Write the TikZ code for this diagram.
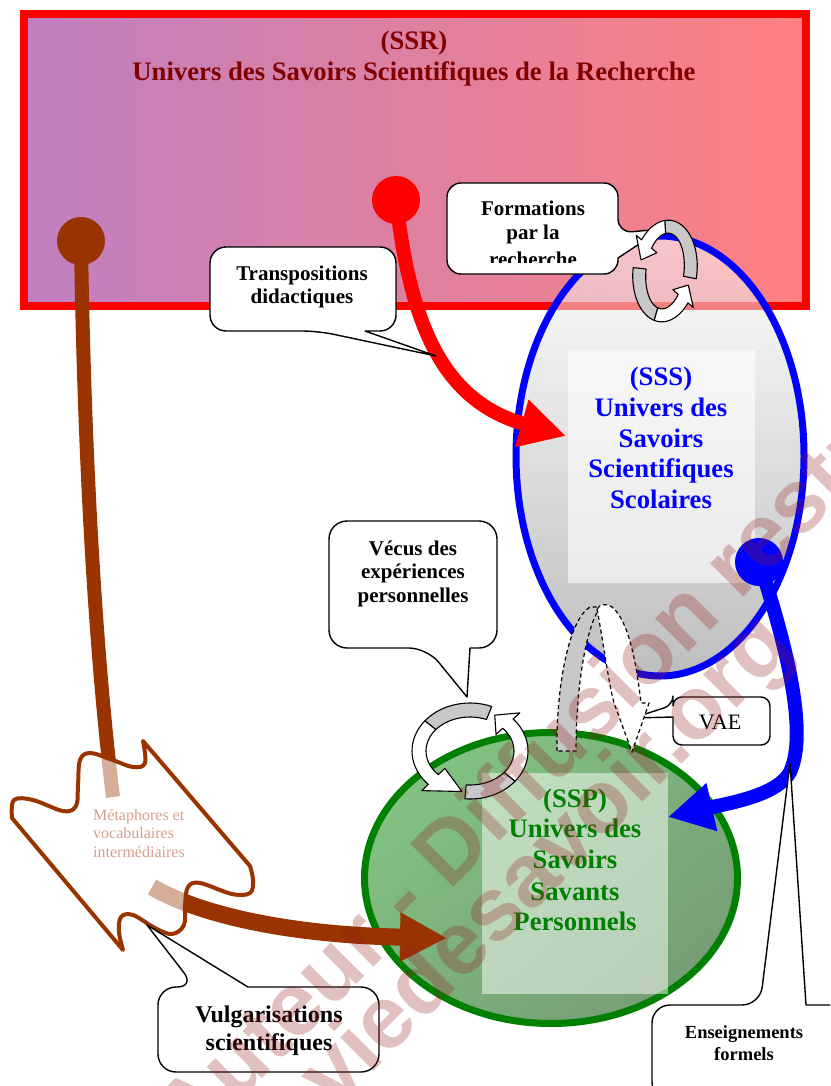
\documentclass[tikz,border=0pt]{standalone}
\usepackage{fontspec}
\setmainfont{Liberation Serif}
\newfontfamily\wmfont{Liberation Sans}
\usetikzlibrary{arrows.meta,shapes.geometric}
\definecolor{brn}{RGB}{153,51,0}
\definecolor{lbrn}{RGB}{212,160,140}
\definecolor{ssrt}{RGB}{128,0,0}
\definecolor{sspg}{RGB}{0,128,0}
\definecolor{rectL}{RGB}{190,128,192}
\definecolor{rectR}{RGB}{255,128,128}
\definecolor{wmc}{RGB}{150,30,30}
\definecolor{ringgrey}{RGB}{200,200,200}
\definecolor{gA}{RGB}{130,194,130}
\definecolor{gB}{RGB}{118,158,118}
\definecolor{sssbot}{RGB}{137,137,137}

\newcommand\ringarr[4]{%
  \pgfmathsetmacro\iRx{\Rx-\W}%
  \pgfmathsetmacro\iRy{\Ry-\W}%
  \pgfmathsetmacro\mRx{\Rx-\W/2}%
  \pgfmathsetmacro\mRy{\Ry-\W/2}%
  \pgfmathsetmacro\oRxh{\Rx+\Hw}%
  \pgfmathsetmacro\oRyh{\Ry+\Hw}%
  \pgfmathsetmacro\iRxh{\Rx-\W-\Hw}%
  \pgfmathsetmacro\iRyh{\Ry-\W-\Hw}%
  \filldraw[ringline, fill=ringgrey] plot[domain=#1:#2, samples=20] ({\Rx*cos(\x)},{\Ry*sin(\x)}) -- plot[domain=#2:#1, samples=20] ({\iRx*cos(\x)},{\iRy*sin(\x)}) -- cycle;
  \filldraw[ringline, fill=white] plot[domain=#2:#3, samples=20] ({\Rx*cos(\x)},{\Ry*sin(\x)}) -- ({\oRxh*cos(#3)},{\oRyh*sin(#3)}) -- ({\mRx*cos(#4)},{\mRy*sin(#4)}) -- ({\iRxh*cos(#3)},{\iRyh*sin(#3)}) -- plot[domain=#3:#2, samples=20] ({\iRx*cos(\x)},{\iRy*sin(\x)}) -- cycle;
}

\begin{document}
\begin{tikzpicture}[x=1pt,y=-1pt,
  tl/.style={anchor=base, inner sep=0pt},
  cbox/.style={draw=black, line width=1.4pt, fill=white, line join=round},
  ringline/.style={draw=black, line width=1.1pt, line join=round},
  bigtxt/.style={font=\bfseries\fontsize{26.7}{30}\selectfont},
  calltxt/.style={font=\bfseries\fontsize{21}{24}\selectfont},
  vultxt/.style={font=\bfseries\fontsize{24}{28}\selectfont},
  enstxt/.style={font=\bfseries\fontsize{18.5}{21}\selectfont},
  vaetxt/.style={font=\fontsize{22}{24}\selectfont},
  metatxt/.style={font=\fontsize{16}{18}\selectfont, text=lbrn, anchor=base west, inner sep=0pt},
  dot/.style={circle, inner sep=0pt, minimum size=48pt},
  wm/.style={font=\wmfont\bfseries\fontsize{89}{89}\selectfont, text=wmc, opacity=0.28, inner sep=0pt, rotate=45, anchor=base west},
  arch/.style={draw=black, line width=1.2pt, dash pattern=on 4pt off 3pt}
]
\useasboundingbox (0,0) rectangle (830,1086);
\clip (0,0) rectangle (830,1086);
\fill[white] (0,0) rectangle (830,1086);

% SSR rectangle
\node[draw=red, line width=8pt, left color=rectL, right color=rectR, minimum width=782pt, minimum height=292pt, inner sep=0pt] (ssr) at (415,160) {};

% SSS ellipse
\node[ellipse, draw=blue, line width=7pt, top color=white, bottom color=sssbot, fill opacity=0.55, minimum width=288pt, minimum height=440pt, inner sep=0pt] (sss) at (660,456) {};
\node[fill=white, fill opacity=0.6, minimum width=187pt, minimum height=233pt, inner sep=0pt] (sssbox) at (661.5,466.5) {};

% SSP ellipse
\node[ellipse, draw=sspg, line width=7pt, top color=gA, bottom color=gB, shading angle=40, minimum width=373pt, minimum height=291pt, inner sep=0pt] (ssp) at (551,878) {};
\node[fill=white, fill opacity=0.5, minimum width=186pt, minimum height=221pt, inner sep=0pt] (sspbox) at (575,883.5) {};

% titles
\node[tl, bigtxt, text=ssrt] (ssr1) at (414,50) {(SSR)};
\node[tl, bigtxt, text=ssrt] (ssr2) at (414,81) {Univers des Savoirs Scientifiques de la Recherche};

\node[tl, bigtxt, text=blue] (sss1) at (661,385) {(SSS)};
\node[tl, bigtxt, text=blue] (sss2) at (661,416) {Univers des};
\node[tl, bigtxt, text=blue] (sss3) at (661,447) {Savoirs};
\node[tl, bigtxt, text=blue] (sss4) at (661,477) {Scientifiques};
\node[tl, bigtxt, text=blue] (sss5) at (661,508) {Scolaires};

\node[tl, bigtxt, text=sspg] (ssp1) at (575,807) {(SSP)};
\node[tl, bigtxt, text=sspg] (ssp2) at (575,837) {Univers des};
\node[tl, bigtxt, text=sspg] (ssp3) at (575,868) {Savoirs};
\node[tl, bigtxt, text=sspg] (ssp4) at (575,900) {Savants};
\node[tl, bigtxt, text=sspg] (ssp5) at (575,930) {Personnels};

% brown connector
\node[dot, fill=brn] (bdot) at (81,241) {};
\coordinate (bstemend) at (113,797);
\coordinate (bstart) at (152,887);
\coordinate (btip) at (447,938);
\draw[brn, line width=14pt] (bdot.center) .. controls (84,450) and (95,650) .. (bstemend);
\draw[brn, line width=17pt, -{Triangle[length=47pt,width=46pt]}] (bstart) .. controls (200,915) and (290,935) .. (btip);

% metaphores wave shape
\draw[brn, line width=4pt, fill=white, fill opacity=0.6, line join=round]
  plot[smooth, tension=0.6] coordinates {(12,818) (14,800) (33,800) (63,811) (76,806) (78,785) (80,760) (90,753) (110,759) (133,767) (145,763) (143,741)}
  -- plot[smooth, tension=0.6] coordinates {(250,866) (253,880) (250,893) (232,894) (200,883) (188,887) (185,905) (184,925) (172,934) (155,928) (133,915) (121,917) (119,932) (123,950)}
  -- cycle;
\node[metatxt] (meta1) at (93,820) {Métaphores et};
\node[metatxt] (meta2) at (93,838) {vocabulaires};
\node[metatxt] (meta3) at (93,857) {intermédiaires};

% red connector
\node[dot, fill=red] (rdot) at (396,200) {};
\coordinate (rtip) at (566,436);
\draw[red, line width=14pt, -{Triangle[length=46pt,width=46pt]}] (rdot.center) .. controls (410,320) and (440,400) .. (rtip);

% blue connector
\node[dot, fill=blue] (bldot) at (759,562) {};
\coordinate (blmid) at (790,772);
\coordinate (bltip) at (668,817);
\draw[blue, line width=14pt, -{Triangle[length=45pt,width=46pt]}] (bldot.center) .. controls (795,670) and (805,740) .. (blmid) .. controls (778,795) and (730,803) .. (bltip);

% callouts
\draw[cbox] (365,331) [rounded corners=16] -- (396,331) -- (396,247) -- (210,247) -- (210,331) -- (318,331) [sharp corners] -- (436,356) -- cycle;
\node[tl, calltxt] (tr1) at (302,280) {Transpositions};
\node[tl, calltxt] (tr2) at (302,303) {didactiques};

\draw[cbox] (618,258) [rounded corners=14] -- (618,274) -- (447,274) -- (447,183) -- (618,183) -- (618,233) [sharp corners] -- (662,229) -- cycle;
\begin{scope}
\clip (447,183) rectangle (618,262);
\node[tl, calltxt] (fo1) at (533,215) {Formations};
\node[tl, calltxt] (fo2) at (533,239) {par la};
\node[tl, calltxt] (fo3) at (533,266) {recherche};
\end{scope}

\draw[cbox] (470,648) [rounded corners=18] -- (497,648) -- (497,521) -- (329,521) -- (329,648) -- (427,648) [sharp corners] -- (467,697) -- cycle;
\node[tl, calltxt] (ve1) at (413,555) {Vécus des};
\node[tl, calltxt] (ve2) at (413,578) {expériences};
\node[tl, calltxt] (ve3) at (413,602) {personnelles};

\draw[cbox] (673,717) [rounded corners=9] -- (673,745) -- (770,745) -- (770,697) -- (673,697) -- (673,705) [sharp corners] -- (633,718) -- cycle;
\node[tl, vaetxt] (vae) at (720,729) {VAE};

\draw[cbox] (248,987) [rounded corners=18] -- (379,987) -- (379,1072) -- (158,1072) -- (158,987) -- (195,987) [sharp corners] -- (147,925) -- cycle;
\node[tl, vultxt] (vu1) at (269,1022) {Vulgarisations};
\node[tl, vultxt] (vu2) at (269,1050) {scientifiques};

\draw[cbox] (806,1005) [rounded corners=18] -- (850,1005) -- (850,1100) -- (652,1100) -- (652,1005) -- (760,1005) [sharp corners] -- (790,763) -- cycle;
\node[tl, enstxt] (en1) at (744,1038) {Enseignements};
\node[tl, enstxt] (en2) at (744,1060) {formels};

% VAE arch
\filldraw[arch, fill=ringgrey] (557,751) .. controls (556,690) and (568,620) .. (590,607) -- (600,607) .. controls (585,630) and (576,690) .. (576,751) -- cycle;
\filldraw[arch, fill=white] (597,609) .. controls (603,640) and (608,680) .. (614,703) -- (632,752) -- (649,703) -- (641,703) .. controls (636,660) and (628,620) .. (612,607) .. controls (606,603) and (600,604) .. (597,609) -- cycle;

% circular arrows
\begin{scope}[shift={(665,271)}, rotate=-6]
\def\Rx{32}\def\Ry{51}\def\W{13}\def\Hw{7}
\ringarr{5}{-100}{-146}{-169}
\ringarr{180}{100}{35}{15}
\end{scope}
\begin{scope}[shift={(470,751)}]
\def\Rx{58}\def\Ry{48}\def\W{14}\def\Hw{9}
\ringarr{-68}{-141}{-224}{-261}
\ringarr{95}{39}{-42}{-61}
\end{scope}

% watermark
\node[wm] (wm1) at (191,1150) {Auteur - Diffusion restreinte};
\node[wm] (wm2) at (334,1111) {viedesavoir.org};
\end{tikzpicture}
\end{document}
